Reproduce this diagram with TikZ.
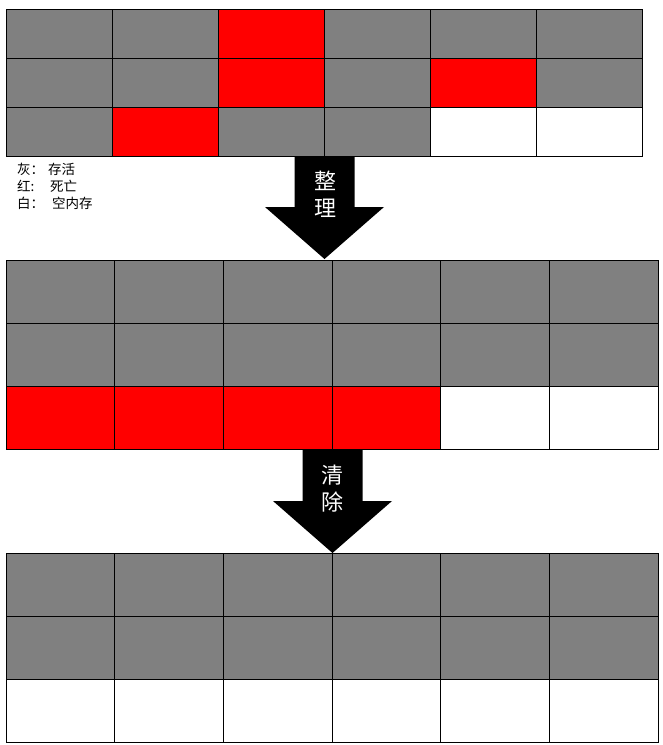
\documentclass[tikz,border=0pt]{standalone}
\usepackage{fontspec}
\newfontfamily\cjk{Noto Sans CJK SC}
\usetikzlibrary{positioning}

\tikzset{
  cell/.style={draw=black, line width=1pt, inner sep=0pt, outer sep=0pt, anchor=north west},
  downarrow/.pic={\fill[black] (-30,0) -- (30,0) -- (30,51) -- (59.5,51) -- (0,103) -- (-59.5,51) -- (-30,51) -- cycle;}
}

\begin{document}
\begin{tikzpicture}[x=1pt,y=-1pt,
  arrowtext/.style={text=white, font=\cjk\fontsize{22}{27}\selectfont, align=center, inner sep=0pt},
  legend/.style={font=\cjk\fontsize{13.5}{17}\selectfont, align=left, anchor=north west, inner sep=0pt}]

\useasboundingbox (0,0) rectangle (662,745);

% Before
  \foreach \colors [count=\r from 0] in {{gray,gray,red,gray,gray,gray},{gray,gray,red,gray,red,gray},{gray,red,gray,gray,white,white}}
    \foreach \c [count=\k from 0] in \colors
      \node[cell, fill=\c, minimum width=106pt, minimum height=49pt] (top-\r-\k) at ({6+106*\k},{9+49*\r}) {};

% Legend
  \node[legend] (key) at (17,163) {\makebox[31pt][l]{灰：}存活\\\makebox[33pt][l]{红:}死亡\\\makebox[35pt][l]{白：}空内存};

% After compacting
  \foreach \colors [count=\r from 0] in {{gray,gray,gray,gray,gray,gray},{gray,gray,gray,gray,gray,gray},{red,red,red,red,white,white}}
    \foreach \c [count=\k from 0] in \colors
      \node[cell, fill=\c, minimum width=108.67pt, minimum height=63.33pt] (mid-\r-\k) at ({6+108.67*\k},{260+63.33*\r}) {};

% After sweeping
  \foreach \colors [count=\r from 0] in {{gray,gray,gray,gray,gray,gray},{gray,gray,gray,gray,gray,gray},{white,white,white,white,white,white}}
    \foreach \c [count=\k from 0] in \colors
      \node[cell, fill=\c, minimum width=108.67pt, minimum height=63.33pt] (low-\r-\k) at ({6+108.67*\k},{553+63.33*\r}) {};

% Arrows
  \pic at (324.5,156) {downarrow};
  \node[arrowtext] (tidy) at (325,194) {整\\理};
  \pic at (332.5,450) {downarrow};
  \node[arrowtext] (sweep) at (332,489) {清\\除};

\end{tikzpicture}
\end{document}
